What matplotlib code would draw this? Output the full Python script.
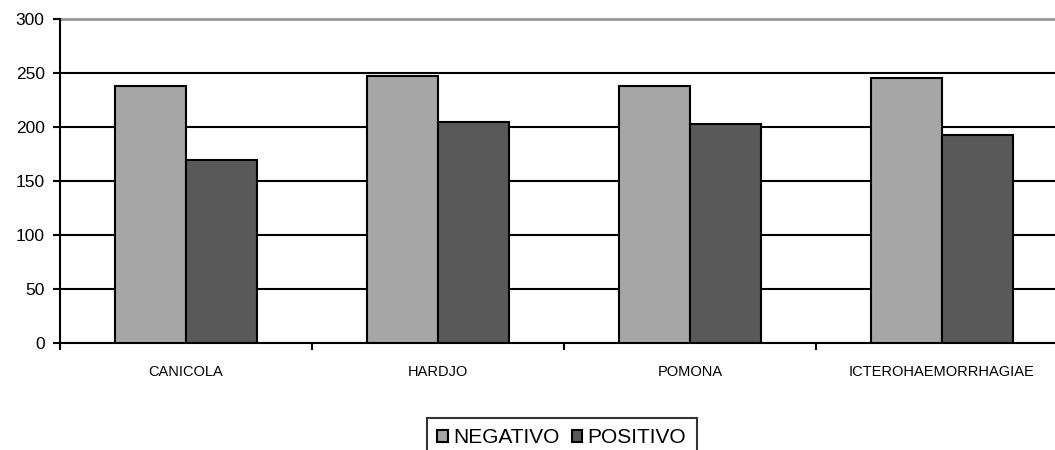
import matplotlib
matplotlib.use("Agg")
import matplotlib.pyplot as plt
import numpy as np
from matplotlib.patches import Patch

categories = ["CANICOLA", "HARDJO", "POMONA", "ICTEROHAEMORRHAGIAE"]
negativo = [238, 247, 238, 245]
positivo = [169, 205, 203, 193]
series_names = ["NEGATIVO", "POSITIVO"]
colors = ["#A6A6A6", "#595959"]
yticks = [0, 50, 100, 150, 200, 250, 300]

plt.rcParams["font.family"] = ["Liberation Sans", "DejaVu Sans"]

fig = plt.figure(figsize=(10.55, 4.5), dpi=100)
ax = fig.add_axes([60 / 1055, 107 / 450, 1008 / 1055, 324 / 450])

x = np.arange(len(categories))
w = 0.28
ax.bar(x - w / 2, negativo, w, color=colors[0], edgecolor="black", linewidth=1.5, zorder=3)
ax.bar(x + w / 2, positivo, w, color=colors[1], edgecolor="black", linewidth=1.5, zorder=3)

ax.set_xlim(-0.5, len(categories) - 0.5)
ax.set_ylim(0, 300)
ax.set_yticks(yticks)
ax.set_yticklabels([str(v) for v in yticks], fontsize=12.5)
ax.yaxis.grid(True, color="black", linewidth=1.5, zorder=0)
ax.set_axisbelow(True)

ax.set_xticks(x)
ax.set_xticklabels(categories, fontsize=10.5)
ax.tick_params(axis="x", length=0, pad=16)
ax.set_xticks(np.arange(len(categories)) - 0.5, minor=True)
ax.tick_params(axis="x", which="minor", length=5, width=1.5, direction="out")
ax.tick_params(axis="y", length=5, width=1.5, direction="out", pad=6)

for side in ["top", "right"]:
    ax.spines[side].set_visible(False)
ax.spines["left"].set_linewidth(1.5)
ax.spines["bottom"].set_linewidth(1.5)
ax.axhline(300, color="#999999", linewidth=2, zorder=1, clip_on=False)

handles = [Patch(facecolor=c, edgecolor="black", linewidth=1.5) for c in colors]
leg = fig.legend(handles, series_names, loc="upper left",
                 bbox_to_anchor=(427 / 1055, 1 - 418 / 450), ncol=2,
                 fontsize=15, frameon=True, fancybox=False, handlelength=0.5,
                 handleheight=0.5, handletextpad=0.25, columnspacing=0.6,
                 borderpad=0.5, borderaxespad=0)
leg.get_frame().set_edgecolor("black")
leg.get_frame().set_linewidth(1.5)

fig.savefig("out.png", dpi=100)
